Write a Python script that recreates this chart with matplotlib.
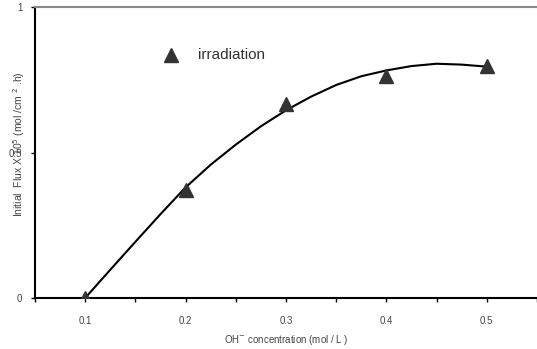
import numpy as np
import matplotlib
matplotlib.use("Agg")
import matplotlib.pyplot as plt
from matplotlib.ticker import MultipleLocator

plt.rcParams['font.family'] = ['Liberation Sans', 'DejaVu Sans']

# measured points (triangles)
conc = [0.1, 0.2, 0.3, 0.4, 0.5]
flux = [0.0, 0.372, 0.667, 0.762, 0.797]

# fitted curve
curve_x = [0.1, 0.125, 0.15, 0.175, 0.2, 0.225, 0.25, 0.275, 0.3, 0.325,
           0.35, 0.375, 0.4, 0.425, 0.45, 0.475, 0.5]
curve_y = [0.0, 0.097, 0.193, 0.288, 0.38, 0.458, 0.527, 0.59, 0.645, 0.692,
           0.732, 0.762, 0.782, 0.797, 0.805, 0.802, 0.795]

fig = plt.figure(figsize=(5.37, 3.49), dpi=100)
ax = fig.add_axes([0.065, 0.146, 0.935, 0.834])

ax.plot(curve_x, curve_y, color='black', lw=1.5, zorder=2)
ax.plot(conc, flux, linestyle='none', marker='^', ms=10, color='#333333', zorder=3)

ax.set_xlim(0.05, 0.55)
ax.set_ylim(0, 1)
ax.xaxis.set_minor_locator(MultipleLocator(0.05))
ax.set_xticks([0.1, 0.2, 0.3, 0.4, 0.5])
ax.set_xticklabels(['0.1', '0.2', '0.3', '0.4', '0.5'])
ax.set_yticks([0, 0.5, 1])
ax.set_yticklabels(['0', '0.5', '1'])
ax.tick_params(axis='both', which='both', direction='out', length=3, width=1,
               labelsize=7, labelcolor='#444444')
ax.tick_params(axis='x', pad=10)
ax.tick_params(axis='y', pad=6)

ax.spines['right'].set_visible(False)
ax.spines['top'].set_color('#888888')
ax.spines['top'].set_linewidth(1.5)
ax.spines['left'].set_linewidth(1.5)
ax.spines['bottom'].set_linewidth(1.5)

ax.set_xlabel('OH$^{-}$ concentration (mol / L )', fontsize=7, color='#444444', labelpad=5)
ax.set_ylabel('Initial  Flux X 10$^{5}$ (mol /cm $^{2}$ .h)', fontsize=7.5, color='#444444')
ax.yaxis.set_label_coords(-0.015, 0.53)

# legend drawn as marker + text
ax.plot([0.186], [0.835], linestyle='none', marker='^', ms=10, color='#333333')
ax.text(0.212, 0.835, 'irradiation', fontsize=11, color='#333333', va='center')

fig.savefig('out.png', dpi=100)
